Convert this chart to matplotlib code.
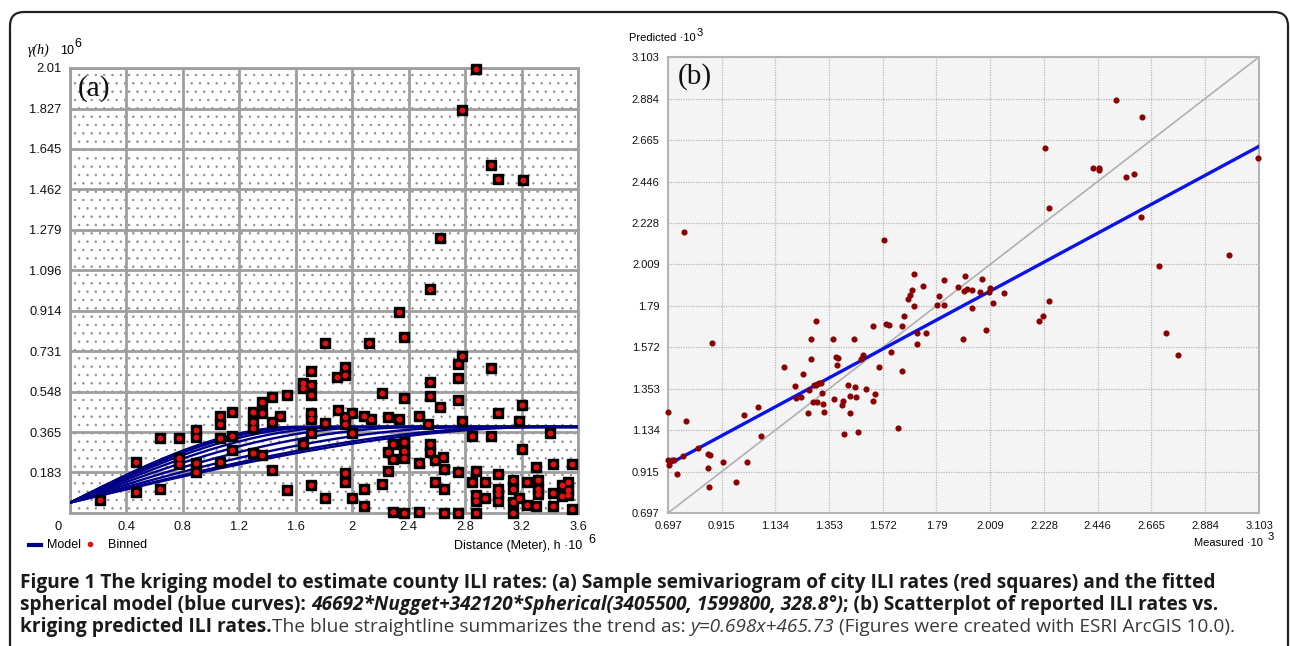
import numpy as np
import matplotlib.pyplot as plt
from matplotlib.patches import Rectangle, FancyBboxPatch
from matplotlib.lines import Line2D
from matplotlib.transforms import IdentityTransform, ScaledTranslation

W, H = 1290, 646

# ---------------- panel (a): semivariogram (units 10^6) ----------------
bin_x = [0.21, 0.47, 0.47, 0.64, 0.64, 0.77, 0.77, 0.77, 0.89, 0.89, 0.89, 0.89,
         1.06, 1.06, 1.06, 1.06, 1.15, 1.15, 1.15, 1.30, 1.30, 1.30, 1.30, 1.36,
         1.36, 1.36, 1.43, 1.43, 1.43, 1.49, 1.54, 1.54, 1.65, 1.65, 1.71, 1.71,
         1.71, 1.71, 1.71, 1.65, 1.71, 1.71, 1.81, 1.81, 1.81, 2.55, 2.33, 2.37,
         2.12, 2.78, 2.75, 2.75, 2.98, 1.95, 1.95, 1.89, 2.55, 2.55, 2.21, 2.37,
         2.75, 2.62, 3.20, 3.03, 1.90, 2.00, 2.08, 2.13, 2.25, 2.33, 2.47, 2.78,
         3.18, 1.95, 1.95, 2.54, 2.85, 2.98, 3.40, 2.00, 2.29, 2.37, 2.25, 2.29,
         2.37, 2.37, 2.55, 2.55, 2.59, 2.64, 2.65, 2.47, 2.75, 3.20, 3.30, 3.42,
         3.56, 2.25, 1.95, 1.95, 2.21, 2.08, 2.00, 2.08, 2.29, 2.37, 2.47, 2.65,
         2.75, 2.88, 2.59, 2.65, 2.85, 2.88, 2.94, 3.03, 2.88, 2.88, 2.94, 3.03,
         3.03, 3.03, 3.14, 3.14, 3.18, 3.14, 3.14, 3.24, 3.24, 3.30, 3.32, 3.32,
         3.32, 3.42, 3.42, 3.49, 3.49, 3.53, 3.53, 3.53, 3.56, 2.88, 2.78, 2.98,
         3.03, 3.21, 2.62]
bin_y = [0.06, 0.23, 0.095, 0.34, 0.11, 0.34, 0.25, 0.22, 0.375, 0.345, 0.225, 0.185,
         0.44, 0.40, 0.34, 0.23, 0.455, 0.35, 0.285, 0.455, 0.41, 0.385, 0.27, 0.50,
         0.45, 0.26, 0.525, 0.41, 0.195, 0.44, 0.535, 0.105, 0.585, 0.565, 0.64, 0.58,
         0.535, 0.45, 0.425, 0.31, 0.36, 0.125, 0.77, 0.405, 0.07, 1.01, 0.91, 0.795,
         0.77, 0.71, 0.675, 0.61, 0.655, 0.66, 0.625, 0.615, 0.59, 0.53, 0.54, 0.52,
         0.51, 0.48, 0.49, 0.45, 0.465, 0.45, 0.44, 0.425, 0.435, 0.425, 0.44, 0.415,
         0.415, 0.435, 0.40, 0.40, 0.35, 0.35, 0.36, 0.36, 0.31, 0.32, 0.275, 0.245,
         0.28, 0.25, 0.31, 0.275, 0.24, 0.255, 0.20, 0.225, 0.185, 0.29, 0.21, 0.22,
         0.22, 0.19, 0.18, 0.14, 0.13, 0.11, 0.07, 0.03, 0.005, 0.0, 0.005, 0.0,
         0.0, 0.0, 0.14, 0.11, 0.14, 0.19, 0.14, 0.175, 0.08, 0.055, 0.07, 0.11,
         0.085, 0.055, 0.15, 0.11, 0.07, 0.05, 0.0, 0.14, 0.035, 0.03, 0.15, 0.11,
         0.085, 0.09, 0.03, 0.125, 0.075, 0.14, 0.105, 0.08, 0.02, 2.005, 1.82, 1.57,
         1.51, 1.505, 1.24]

# spherical model from the caption: 46692*Nugget + 342120*Spherical(...)
nugget = 0.046692
psill = 0.342120
dir_ranges = [3.4055, 3.237, 2.864, 2.482, 2.172, 1.943, 1.783, 1.678, 1.619, 1.5998]

a_xticks = [0, 0.4, 0.8, 1.2, 1.6, 2.0, 2.4, 2.8, 3.2, 3.6]
a_xlabels = ["0", "0.4", "0.8", "1.2", "1.6", "2", "2.4", "2.8", "3.2", "3.6"]
a_yticks = [0.183, 0.365, 0.548, 0.731, 0.914, 1.096, 1.279, 1.462, 1.645, 1.827, 2.01]
a_ylabels = ["0.183", "0.365", "0.548", "0.731", "0.914", "1.096", "1.279", "1.462",
             "1.645", "1.827", "2.01"]

# ---------------- panel (b): measured vs predicted (units 10^3) ----------------
meas = [0.697, 0.697, 0.713, 0.700, 0.722, 0.733, 0.758, 0.770, 0.819, 0.860, 0.868,
        0.860, 0.864, 0.876, 0.921, 0.974, 1.006, 1.019, 1.064, 1.076, 1.169, 1.214,
        1.218, 1.239, 1.247, 1.267, 1.271, 1.279, 1.279, 1.299, 1.290, 1.298, 1.305,
        1.312, 1.320, 1.287, 1.304, 1.324, 1.328, 1.332, 1.369, 1.373, 1.381, 1.389,
        1.385, 1.405, 1.410, 1.414, 1.430, 1.438, 1.438, 1.454, 1.458, 1.462, 1.470,
        1.483, 1.491, 1.503, 1.532, 1.532, 1.540, 1.556, 1.585, 1.597, 1.605, 1.633,
        1.650, 1.650, 1.658, 1.674, 1.682, 1.690, 1.698, 1.710, 1.710, 1.735, 1.747,
        1.576, 1.699, 1.821, 1.800, 1.792, 1.821, 1.878, 1.906, 1.902, 1.914, 1.935,
        1.935, 1.898, 1.967, 1.975, 1.992, 2.008, 2.004, 2.020, 2.065, 2.208, 2.224,
        2.248, 2.248, 2.725, 2.773, 2.521, 2.627, 2.232, 2.427, 2.452, 2.452, 2.562,
        2.594, 3.100, 2.623, 2.696, 2.980, 0.762]
pred = [1.230, 0.977, 0.977, 0.950, 0.975, 0.903, 0.998, 1.183, 1.040, 1.010, 1.003,
        0.934, 0.834, 1.594, 0.966, 0.861, 1.214, 0.966, 1.256, 1.103, 1.467, 1.367,
        1.304, 1.309, 1.430, 1.225, 1.346, 1.510, 1.615, 1.710, 1.370, 1.375, 1.378,
        1.382, 1.384, 1.283, 1.283, 1.330, 1.272, 1.230, 1.615, 1.299, 1.520, 1.515,
        1.478, 1.267, 1.288, 1.114, 1.372, 1.314, 1.225, 1.615, 1.362, 1.309, 1.124,
        1.510, 1.531, 1.351, 1.684, 1.288, 1.325, 1.467, 1.694, 1.690, 1.547, 1.146,
        1.446, 1.684, 1.737, 1.826, 1.847, 1.874, 1.789, 1.647, 1.589, 1.895, 1.647,
        2.138, 1.958, 1.927, 1.842, 1.795, 1.795, 1.890, 1.948, 1.868, 1.879, 1.874,
        1.779, 1.615, 1.863, 1.932, 1.663, 1.884, 1.863, 1.805, 1.858, 1.710, 1.737,
        1.816, 2.306, 1.647, 1.531, 2.876, 2.787, 2.623, 2.518, 2.518, 2.507, 2.470,
        2.486, 2.570, 2.259, 2.000, 2.058, 2.180]

trend_slope = 0.698
trend_icpt = 0.46573
b_ticks = [0.697, 0.915, 1.134, 1.353, 1.572, 1.79, 2.009, 2.228, 2.446, 2.665, 2.884, 3.103]
b_labels = ["0.697", "0.915", "1.134", "1.353", "1.572", "1.79", "2.009", "2.228",
            "2.446", "2.665", "2.884", "3.103"]

cap1 = [("Figure 1 The kriging model to estimate county ILI rates: (a) Sample semivariogram "
         "of city ILI rates (red squares) and the fitted", "b")]
cap2 = [("spherical model (blue curves): ", "b"),
        ("46692*Nugget+342120*Spherical(3405500, 1599800, 328.8°)", "bi"),
        ("; (b) Scatterplot of reported ILI rates vs.", "b")]
cap3 = [("kriging predicted ILI rates.", "b"),
        ("The blue straightline summarizes the trend as: ", "r"),
        ("y=0.698x+465.73", "i"),
        (" (Figures were created with ESRI ArcGIS 10.0).", "r")]


def fx(px):
    return px / W


def fy(py):
    return 1 - py / H


plt.rcParams["hatch.linewidth"] = 0.5
fig = plt.figure(figsize=(W / 100, H / 100), dpi=100)
sans = "Liberation Sans"

# outer rounded frame
frame = FancyBboxPatch((10, -60), 1278, H - 12 + 60, boxstyle="round,pad=0,rounding_size=14",
                       transform=IdentityTransform(), facecolor="none", edgecolor="#222222",
                       linewidth=1.6)
fig.add_artist(frame)

# ---- panel (a)
ax1 = fig.add_axes([fx(70), fy(513), 508 / W, 445 / H])
ax1.add_patch(Rectangle((0, 0), 1, 1, transform=ax1.transAxes, facecolor="white",
                        hatch="..", edgecolor="#8c8c8c", linewidth=0, zorder=0))
h = np.linspace(0, 3.6, 300)
for r in dir_ranges:
    hr = np.minimum(h / r, 1.0)
    gam = nugget + psill * (1.5 * hr - 0.5 * hr ** 3)
    ax1.plot(h, gam, color="#000088", lw=1.7, zorder=3)
ax1.plot(bin_x, bin_y, "s", ms=7.5, mfc="black", mec="black", zorder=4, clip_on=False)
ax1.plot(bin_x, bin_y, "o", ms=3.2, mfc="#e41010", mec="#e41010", zorder=5, clip_on=False)
ax1.set_xlim(0, 3.6)
ax1.set_ylim(0, 2.01)
ax1.set_xticks(a_xticks)
ax1.set_xticklabels(a_xlabels)
ax1.set_yticks(a_yticks)
ax1.set_yticklabels(a_ylabels)
ax1.grid(True, color="#9e9e9e", lw=2)
ax1.set_axisbelow(True)
for s in ax1.spines.values():
    s.set_color("#9e9e9e")
    s.set_linewidth(2)
ax1.tick_params(length=0, labelsize=9.3, pad=6, labelcolor="#111111")
for t in ax1.get_xticklabels() + ax1.get_yticklabels():
    t.set_family(sans)
zero_lbl = ax1.get_xticklabels()[0]
zero_lbl.set_transform(zero_lbl.get_transform() + ScaledTranslation(-0.12, 0, fig.dpi_scale_trans))

fig.text(fx(78), fy(89), "(a)", family="Liberation Serif", fontsize=21, va="center",
         color="#111111")
fig.text(fx(28), fy(50), "γ(h)", family="Liberation Serif", style="italic", fontsize=10,
         va="center")
fig.text(fx(60), fy(51), "10", family=sans, fontsize=9, va="center")
fig.text(fx(74), fy(44), "6", family=sans, fontsize=9, va="center")
fig.text(fx(582), fy(546), "Distance (Meter), h ·10", family=sans, fontsize=9,
         va="center", ha="right")
fig.text(fx(588), fy(540), "6", family=sans, fontsize=9, va="center")
fig.add_artist(Line2D([fx(29), fx(41)], [fy(545), fy(545)], color="#000088", lw=3))
fig.text(fx(47), fy(545), "Model", family=sans, fontsize=9, va="center")
fig.add_artist(Line2D([fx(90)], [fy(544)], marker="o", ms=3, color="#e41010", lw=0))
fig.text(fx(108), fy(545), "Binned", family=sans, fontsize=9, va="center")

# ---- panel (b)
ax2 = fig.add_axes([fx(668), fy(513), 591 / W, 456 / H])
ax2.set_facecolor("#f4f4f4")
lim = [b_ticks[0], b_ticks[-1]]
ax2.plot(lim, lim, color="#b0b0b0", lw=1.2, zorder=2)
ax2.plot(lim, [trend_slope * v + trend_icpt for v in lim], color="#0a14e6", lw=2.4, zorder=3)
ax2.plot(meas, pred, "o", ms=3.4, color="#8b0000", zorder=4, clip_on=False)
ax2.set_xlim(lim)
ax2.set_ylim(lim)
ax2.set_xticks(b_ticks)
ax2.set_xticklabels(b_labels)
ax2.set_yticks(b_ticks)
ax2.set_yticklabels(b_labels)
ax2.grid(True, color="#b8b8b8", lw=0.9, linestyle=(0, (1, 1)))
ax2.set_axisbelow(True)
for s in ax2.spines.values():
    s.set_color("#b4b4b4")
    s.set_linewidth(1.5)
ax2.tick_params(length=0, labelsize=8, pad=6, labelcolor="#111111")
for t in ax2.get_xticklabels() + ax2.get_yticklabels():
    t.set_family(sans)

fig.text(fx(678), fy(77), "(b)", family="Liberation Serif", fontsize=21, va="center",
         color="#111111")
fig.text(fx(629), fy(38), "Predicted ·10", family=sans, fontsize=8, va="center")
fig.text(fx(697), fy(33), "3", family=sans, fontsize=8, va="center")
fig.text(fx(1263), fy(543), "Measured ·10", family=sans, fontsize=8, va="center", ha="right")
fig.text(fx(1268), fy(537), "3", family=sans, fontsize=8, va="center")

# ---- caption with mixed styles
renderer = fig.canvas.get_renderer()
cap_font = "Open Sans"
styles = {"b": ("bold", "normal", "#1a1a1a"), "bi": ("bold", "italic", "#1a1a1a"),
          "r": ("normal", "normal", "#3a3a3a"), "i": ("normal", "italic", "#3a3a3a")}


def text_w(s, size, weight, style):
    t = fig.text(0, 0, s, fontsize=size, fontweight=weight, fontstyle=style, family=cap_font)
    w = t.get_window_extent(renderer=renderer).width
    t.remove()
    return w


def rich_line(x0, y0, parts, size):
    x = x0
    for txt, key in parts:
        weight, style, color = styles[key]
        sp = text_w("a a", size, weight, style) - text_w("aa", size, weight, style)
        lead = len(txt) - len(txt.lstrip(" "))
        trail = len(txt) - len(txt.rstrip(" "))
        x += lead * sp
        body = txt.strip(" ")
        t = fig.text(fx(x), fy(y0), body, fontsize=size, fontweight=weight, fontstyle=style,
                     family=cap_font, color=color, va="center", ha="left")
        x += t.get_window_extent(renderer=renderer).width + trail * sp


base = 11.0
w1 = text_w(cap1[0][0], base, "bold", "normal")
cap_size = base * (1213 - 20) / w1
rich_line(20, 583, cap1, cap_size)
rich_line(20, 605, cap2, cap_size)
rich_line(20, 627, cap3, cap_size)

fig.savefig("out.png", dpi=100)
